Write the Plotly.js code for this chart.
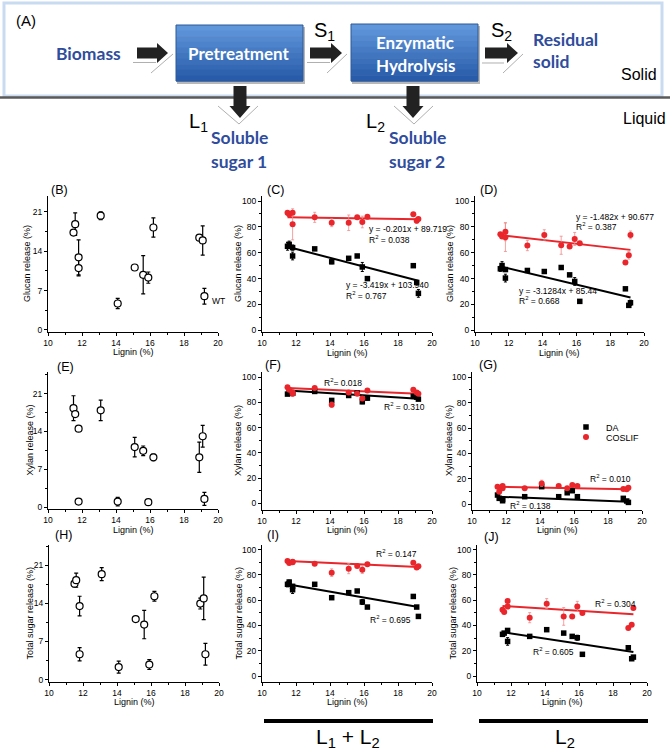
<!DOCTYPE html>
<html><head><meta charset="utf-8">
<script src="https://cdn.plot.ly/plotly-3.0.1.min.js"></script>
<style>html,body{margin:0;padding:0;background:#fff}#chart{width:670px;height:755px}</style>
</head><body><div id="chart"></div>
<script>
// ---------------- DATA ----------------
const lignin = [11.5, 11.6, 11.8, 11.8, 13.1, 14.1, 15.1, 15.6, 15.9, 16.2, 18.9, 19.1, 19.2];

// L1 (pretreatment liquor) — panels B, E, H
const glucanL1 = [17.3, 18.8, 12.9, 11.0, 20.3, 4.7, 11.1, 9.8, 9.3, 18.2, 16.4, 15.9, 6.0];
const glucanL1Err = [0.4, 2.0, 3.1, 1.4, 0.7, 0.9, 0.3, 3.4, 1.0, 1.7, 0.3, 2.6, 1.4];
const xylanL1 = [18.3, 17.2, 14.5, 1.0, 17.9, 1.0, 11.1, 10.4, 0.9, 9.2, 9.2, 13.1, 1.5];
const xylanL1Err = [2.3, 0.3, 0.3, 0.2, 1.9, 0.8, 1.8, 0.9, 0.2, 0.6, 2.8, 2.0, 1.2];
const totalL1 = [17.6, 18.25, 13.5, 4.65, 19.35, 2.3, 11.1, 10.1, 2.75, 15.3, 13.96, 14.9, 4.65];
const totalL1Err = [0.6, 1.3, 1.8, 1.2, 1.2, 1.1, 0.2, 2.6, 0.9, 0.9, 1.0, 3.9, 2.0];

// L1 + L2 — panels C, F, I
const glucanL12DA = [65, 66.5, 64, 57.5, 63, 53, 55.7, 57.5, 49, 40, 50, 37, 28.6];
const glucanL12DAErr = [3, 2.5, 2, 3, 1, 1.5, 1, 1, 3.5, 0.5, 1, 1, 3];
const glucanL12COS = [91, 89.7, 91, 82, 87.4, 83.2, 83.2, 87.4, 83.8, 87.9, 89.7, 84.8, 86.1];
const glucanL12COSErr = [1, 1, 1, 12, 3.9, 3, 6, 1, 4.5, 1, 1, 2, 1];
const xylanL12DA = [86.5, 88.1, 87.3, 87.3, 88.6, 81.5, 85.4, 87.3, 80.4, 83.3, 84.7, 84.1, 82.5];
const xylanL12DAErr = [1, 1, 1, 1, 1, 1.5, 1, 1, 1.5, 1.5, 1, 1, 1];
const xylanL12COS = [92, 89.9, 86.8, 88, 91.3, 78, 87.8, 86.8, 83, 89.4, 89.9, 87.8, 86.8];
const xylanL12COSErr = [1, 1, 2, 1, 1, 2, 1, 1, 1, 1, 1, 1, 1];
const totalL12DA = [72.6, 74.4, 71, 68.3, 72.6, 62, 66, 67.3, 58.6, 54.6, 63, 54.6, 47.2];
const totalL12DAErr = [2, 1.5, 1.5, 3, 1, 1, 1, 1, 2, 1, 1, 1, 1];
const totalL12COS = [91, 89.4, 90.5, 90, 88.9, 81.8, 85, 87, 84.2, 88.4, 89.7, 85.8, 86.8];
const totalL12COSErr = [1, 1, 1, 1, 1, 3, 4, 1, 3, 1, 1, 1, 1];

// L2 — panels D, G, J
const glucanL2DA = [47.6, 50.1, 47.0, 40.4, 46.3, 45.5, 48.6, 42.9, 37.8, 22.4, 32.1, 19.3, 21.3];
const glucanL2DAErr = [2, 3, 1, 3, 1, 1, 1, 1, 3, 0.5, 1, 1, 2];
const glucanL2COS = [74.3, 72.5, 76.3, 72.0, 65.6, 73.8, 65.8, 64.8, 70.7, 67.4, 52.4, 58.1, 73.8];
const glucanL2COSErr = [1, 1, 7, 11, 4, 4, 7, 1, 5, 1, 1, 3, 3];
const xylanL2DA = [7.1, 4.5, 3.7, 2.6, 5.8, 13.7, 5.8, 8.9, 10.5, 5.8, 4.5, 2.4, 1.3];
const xylanL2DAErr = [1, 1, 1, 0.5, 0.5, 1, 1, 1, 1, 1, 0.5, 0.5, 0.5];
const xylanL2COS = [13.7, 9.7, 12.4, 14.2, 12.4, 16.3, 14.2, 12.4, 15, 14.2, 11.8, 11.6, 12.9];
const xylanL2COSErr = [1, 1, 1, 1, 1, 2.5, 1, 1, 1, 1, 1, 1, 1];
const totalL2DA = [33, 34, 36.1, 27.4, 31.4, 36.7, 34, 31.4, 30.3, 17.2, 22.4, 13.7, 15];
const totalL2DAErr = [1.5, 1, 1, 3, 1, 1, 1, 1, 2, 1, 1, 1, 1];
const totalL2COS = [52.5, 50.7, 59.4, 55, 46.2, 57.3, 47.2, 47.2, 55.1, 49.9, 38, 40.5, 53.8];
const totalL2COSErr = [1, 1, 1, 1, 4, 4, 7, 1, 4, 1, 1, 1, 1];

// Linear fits, panels in order C, D, F, G, I, J
const fitPanels = ['C', 'D', 'F', 'G', 'I', 'J'];
const daSlope = [-3.419, -3.1284, -0.857, -0.52, -2.34, -2.05];
const daIntercept = [103.940, 85.44, 99.3, 11.8, 99.5, 58.4];
const cosSlope = [-0.201, -1.482, -0.58, -0.247, -0.61, -0.857];
const cosIntercept = [89.719, 90.677, 98.0, 16.5, 98.0, 65.3];
const fitRange = [11.5, 19.2];
const r2DA = ['0.767', '0.668', '0.310', '0.138', '0.695', '0.605'];
const r2COS = ['0.038', '0.387', '0.018', '0.010', '0.147', '0.304'];

const seriesNames = ['DA', 'COSLIF'];
const yTitles = ['Glucan release (%)', 'Xylan release (%)', 'Total sugar release (%)'];
const xTitle = 'Lignin (%)';
const panelLetters = ['(B)', '(C)', '(D)', '(E)', '(F)', '(G)', '(H)', '(I)', '(J)'];

// ---------------- LAYOUT HELPERS ----------------
const W = 670, H = 755;
const fx = x => x / W, fy = y => 1 - y / H;
const FONT = 'Liberation Sans, Arial, sans-serif';
const BOLD = 'Lato, Open Sans, sans-serif';
const RED = '#e8262b', REDERR = '#f08a8a', BLUE = '#2f4d9c';

// panel boxes in px: [x0, x1, yTop, yBottom], y range, dtick, minor
const boxes = [
  [48, 218, 196, 332, [-0.36, 23.8], 7, 3.5],
  [262, 432, 196, 332, [-1.3, 103.9], 20, 10],
  [475, 644, 196, 332, [-1.3, 103.9], 20, 10],
  [48, 218, 372, 509, [-0.37, 25.0], 7, 3.5],
  [262, 432, 372, 510, [-5.3, 104], 20, 10],
  [472, 642, 372, 510, [-4.7, 104.2], 20, 10],
  [49, 219, 545, 682, [-0.44, 24.7], 7, 3.5],
  [262, 432, 545, 682, [-4.7, 103.7], 20, 10],
  [477, 647, 545, 682, [-4.7, 103.7], 20, 10]
];

const legendBase = {xanchor: 'left', yanchor: 'middle', bgcolor: 'rgba(0,0,0,0)',
  font: {size: 9, family: FONT}, itemwidth: 30, tracegroupgap: 0, borderwidth: 0};
const layout = {
  width: W, height: H, margin: {l: 0, r: 0, t: 0, b: 0},
  paper_bgcolor: '#fff', plot_bgcolor: 'rgba(0,0,0,0)',
  font: {family: FONT, color: '#000'},
  showlegend: true,
  legend: Object.assign({x: fx(566), y: fy(427)}, legendBase),
  legend2: Object.assign({x: fx(566), y: fy(437)}, legendBase),
  shapes: [], annotations: []
};

boxes.forEach((b, i) => {
  const n = i + 1, s = n === 1 ? '' : String(n);
  layout['xaxis' + s] = {
    domain: [fx(b[0]), fx(b[1])], range: [10, 20], tick0: 10, dtick: 2,
    anchor: 'y' + s, ticks: 'outside', ticklen: 3, tickwidth: 1, tickcolor: '#000',
    showline: true, linecolor: '#000', linewidth: 1, showgrid: false, zeroline: false,
    tickfont: {size: 8.5, family: FONT},
    minor: {dtick: 1, tick0: 10, ticks: 'outside', ticklen: 2, tickcolor: '#000', showgrid: false}
  };
  layout['yaxis' + s] = {
    domain: [fy(b[3]), fy(b[2])], range: b[4], tick0: 0, dtick: b[5],
    anchor: 'x' + s, ticks: 'outside', ticklen: 3, tickwidth: 1, tickcolor: '#000',
    showline: true, linecolor: '#000', linewidth: 1, showgrid: false, zeroline: false,
    tickfont: {size: 8.5, family: FONT},
    minor: {dtick: b[6], tick0: 0, ticks: 'outside', ticklen: 2, tickcolor: '#000', showgrid: false}
  };
});

const traces = [];
const ax = n => (n === 1 ? '' : String(n));

function openPanel(n, ys, errs) {
  traces.push({
    type: 'scatter', mode: 'markers', x: lignin, y: ys, xaxis: 'x' + ax(n), yaxis: 'y' + ax(n),
    showlegend: false, hoverinfo: 'skip',
    marker: {symbol: 'circle', size: 7, color: '#fff', line: {color: '#000', width: 1.2}},
    error_y: {type: 'data', array: errs, color: '#000', thickness: 1.2, width: 2}
  });
}
openPanel(1, glucanL1, glucanL1Err);
openPanel(4, xylanL1, xylanL1Err);
openPanel(7, totalL1, totalL1Err);

const fitAxes = [2, 3, 5, 6, 8, 9];
const daData = [glucanL12DA, glucanL2DA, xylanL12DA, xylanL2DA, totalL12DA, totalL2DA];
const daErr = [glucanL12DAErr, glucanL2DAErr, xylanL12DAErr, xylanL2DAErr, totalL12DAErr, totalL2DAErr];
const cosData = [glucanL12COS, glucanL2COS, xylanL12COS, xylanL2COS, totalL12COS, totalL2COS];
const cosErr = [glucanL12COSErr, glucanL2COSErr, xylanL12COSErr, xylanL2COSErr, totalL12COSErr, totalL2COSErr];

fitAxes.forEach((n, k) => {
  const xa = 'x' + ax(n), ya = 'y' + ax(n);
  traces.push({type: 'scatter', mode: 'lines', x: fitRange, y: fitRange.map(v => cosSlope[k] * v + cosIntercept[k]),
    xaxis: xa, yaxis: ya, showlegend: false, hoverinfo: 'skip', line: {color: RED, width: 2}});
  traces.push({type: 'scatter', mode: 'lines', x: fitRange, y: fitRange.map(v => daSlope[k] * v + daIntercept[k]),
    xaxis: xa, yaxis: ya, showlegend: false, hoverinfo: 'skip', line: {color: '#000', width: 2}});
});
fitAxes.forEach((n, k) => {
  const xa = 'x' + ax(n), ya = 'y' + ax(n), isLeg = n === 6;
  traces.push({type: 'scatter', mode: 'markers', name: seriesNames[0], x: lignin, y: daData[k],
    xaxis: xa, yaxis: ya, showlegend: isLeg, legend: 'legend', hoverinfo: 'skip',
    marker: {symbol: 'square', size: 5.5, color: '#000'},
    error_y: {type: 'data', array: daErr[k], color: '#000', thickness: 1, width: 1.5}});
  traces.push({type: 'scatter', mode: 'markers', name: seriesNames[1], x: lignin, y: cosData[k],
    xaxis: xa, yaxis: ya, showlegend: isLeg, legend: 'legend2', hoverinfo: 'skip',
    marker: {symbol: 'circle', size: 6, color: RED},
    error_y: {type: 'data', array: cosErr[k], color: REDERR, thickness: 0.8, width: 1.5}});
});

// ---------------- ANNOTATIONS ----------------
const A = layout.annotations, S = layout.shapes;
function txt(text, x, y, size, opts) {
  A.push(Object.assign({text: text, x: fx(x), y: fy(y), xref: 'paper', yref: 'paper', showarrow: false,
    xanchor: 'left', yanchor: 'middle', font: {size: size, family: FONT, color: '#000'}}, opts || {}));
}

// panel letters
const letterPos = [[49, 190], [265, 190], [478, 190], [55, 367], [263, 365], [477, 365], [53, 535], [265, 535], [482, 537]];
panelLetters.forEach((t, i) => txt(t, letterPos[i][0], letterPos[i][1], 12.5));

// axis titles
const yTitleX = [27, 238, 450, 29, 238, 449, 29, 238, 452];
const xTitleY = [352, 353, 353, 530, 530, 530, 702, 702, 702];
boxes.forEach((b, i) => {
  txt(yTitles[Math.floor(i / 3)], yTitleX[i], (b[2] + b[3]) / 2, 9, {xanchor: 'center', textangle: -90});
  txt(xTitle, (b[0] + b[1]) / 2, xTitleY[i], 9, {xanchor: 'center'});
});
txt('WT', 210, 301, 8.5);

// regression equations / R2
txt('y = -0.201x + 89.719', 367, 229, 8.5);
txt('R<sup>2</sup> = ' + r2COS[0], 367, 239, 8.5);
txt('y = -3.419x + 103.940', 344, 285, 8.5);
txt('R<sup>2</sup> = ' + r2DA[0], 344, 295, 8.5);
txt('y = -1.482x + 90.677', 574, 217, 8.5);
txt('R<sup>2</sup> = ' + r2COS[1], 574, 226.5, 8.5);
txt('y = -3.1284x + 85.44', 517, 291, 8.5);
txt('R<sup>2</sup> = ' + r2DA[1], 517, 300.5, 8.5);
txt('R<sup>2</sup>= ' + r2COS[2], 322, 383, 8.5);
txt('R<sup>2</sup> = ' + r2DA[2], 382, 406, 8.5);
txt('R<sup>2</sup> = ' + r2COS[3], 588, 478, 8.5);
txt('R<sup>2</sup> = ' + r2DA[3], 508, 505, 8.5);
txt('R<sup>2</sup> = ' + r2COS[4], 374, 553, 8.5);
txt('R<sup>2</sup> = ' + r2DA[4], 368, 619, 8.5);
txt('R<sup>2</sup> = ' + r2COS[5], 593, 603, 8.5);
txt('R<sup>2</sup> = ' + r2DA[5], 531, 651, 8.5);

// bottom bars + labels
S.push({type: 'rect', xref: 'paper', yref: 'paper', x0: fx(264), x1: fx(433), y0: fy(723), y1: fy(719), fillcolor: '#000', line: {width: 0}});
S.push({type: 'rect', xref: 'paper', yref: 'paper', x0: fx(479), x1: fx(648), y0: fy(723), y1: fy(719), fillcolor: '#000', line: {width: 0}});
txt('L<sub>1</sub> + L<sub>2</sub>', 348, 738, 21, {xanchor: 'center'});
txt('L<sub>2</sub>', 565, 738, 21, {xanchor: 'center'});

// ---------------- SCHEMATIC (A) ----------------
const P = (x, y) => fx(x).toFixed(5) + ',' + fy(y).toFixed(5);
function path(pts, fill, lineColor, lw) {
  S.push({type: 'path', xref: 'paper', yref: 'paper',
    path: 'M' + pts.map(p => P(p[0], p[1])).join(' L') + (fill ? ' Z' : ''),
    fillcolor: fill || 'rgba(0,0,0,0)', line: {color: lineColor || 'rgba(0,0,0,0)', width: lw || 0}});
}
function rect(x0, y0, x1, y1, fill, lc, lw) {
  S.push({type: 'rect', xref: 'paper', yref: 'paper', x0: fx(x0), x1: fx(x1), y0: fy(y1), y1: fy(y0),
    fillcolor: fill, line: {color: lc || 'rgba(0,0,0,0)', width: lw || 0}});
}
// outer frame
rect(4, 3, 662, 96, '#fff', '#c9dbf0', 3);
S.push({type: 'line', xref: 'paper', yref: 'paper', x0: 0, x1: 1, y0: fy(97.5), y1: fy(97.5), line: {color: '#5a5a5a', width: 2.5}});

// gradient boxes
function gradBox(x0, y0, x1, y1) {
  rect(x0 + 1, y0 + 2, x1 + 2, y1 + 3, '#b8b8b8');
  const N = 10, c0 = [96, 150, 218], c1 = [40, 92, 170];
  for (let i = 0; i < N; i++) {
    const t = i / (N - 1);
    const c = c0.map((v, j) => Math.round(v + (c1[j] - v) * t));
    rect(x0, y0 + (y1 - y0) * i / N, x1, y0 + (y1 - y0) * (i + 1) / N + 0.5, 'rgb(' + c.join(',') + ')');
  }
  rect(x0, y0, x1, y1, 'rgba(0,0,0,0)', '#2c5898', 1);
}
gradBox(176, 25, 303, 81);
gradBox(351, 24, 478, 81);

function harrow(x0, x1, yc) {
  path([[x0, yc - 5.5], [x1 - 11, yc - 5.5], [x1 - 11, yc - 10], [x1, yc], [x1 - 11, yc + 10], [x1 - 11, yc + 5.5], [x0, yc + 5.5]], '#222');
}
function varrow(xc, y0, y1) {
  path([[xc - 6.5, y0], [xc + 6.5, y0], [xc + 6.5, y1 - 12], [xc + 10.5, y1 - 12], [xc, y1], [xc - 10.5, y1 - 12], [xc - 6.5, y1 - 12]], '#222');
}
// shadows
path([[133, 62.5], [156, 62.5]], null, '#b0b0b0', 1);
path([[151, 73], [173, 54]], null, '#b0b0b0', 1);
path([[307, 62.5], [330, 62.5]], null, '#b0b0b0', 1);
path([[327, 73], [347, 54]], null, '#b0b0b0', 1);
path([[482, 63], [504, 63]], null, '#b0b0b0', 1);
path([[503, 73], [523, 54]], null, '#b0b0b0', 1);
path([[218, 106], [239, 124], [258, 106]], null, '#b0b0b0', 1);
path([[394, 106], [414, 124], [433, 106]], null, '#b0b0b0', 1);
harrow(137, 168, 53);
harrow(310, 342, 53);
harrow(485, 518, 53);
varrow(240, 86, 118);
varrow(413, 86, 118);

// schematic texts
const blueFont = {size: 17.5, family: BOLD, color: BLUE};
const whiteFont = {size: 17, family: BOLD, color: '#fff'};
txt('(A)', 14, 20, 15);
txt('<b>Biomass</b>', 88, 53, 17.5, {xanchor: 'center', font: blueFont});
txt('<b>Pretreatment</b>', 239, 53, 17, {xanchor: 'center', font: whiteFont});
txt('<b>Enzymatic</b>', 415, 43, 17, {xanchor: 'center', font: whiteFont});
txt('<b>Hydrolysis</b>', 415, 65, 17, {xanchor: 'center', font: whiteFont});
txt('S<sub>1</sub>', 312, 32, 20);
txt('S<sub>2</sub>', 489, 32, 20);
txt('<b>Residual</b>', 531, 39, 17.5, {font: blueFont});
txt('<b>solid</b>', 531, 62, 17.5, {font: blueFont});
txt('Solid', 659, 75, 16, {xanchor: 'right'});
txt('Liquid', 668, 118, 16, {xanchor: 'right'});
txt('L<sub>1</sub>', 187, 122, 20);
txt('L<sub>2</sub>', 364, 122, 20);
txt('<b>Soluble</b>', 239, 138, 17.5, {xanchor: 'center', font: blueFont});
txt('<b>sugar 1</b>', 239, 162, 17.5, {xanchor: 'center', font: blueFont});
txt('<b>Soluble</b>', 417, 138, 17.5, {xanchor: 'center', font: blueFont});
txt('<b>sugar 2</b>', 417, 162, 17.5, {xanchor: 'center', font: blueFont});

Plotly.newPlot('chart', traces, layout, {staticPlot: true, displayModeBar: false});
</script></body></html>
